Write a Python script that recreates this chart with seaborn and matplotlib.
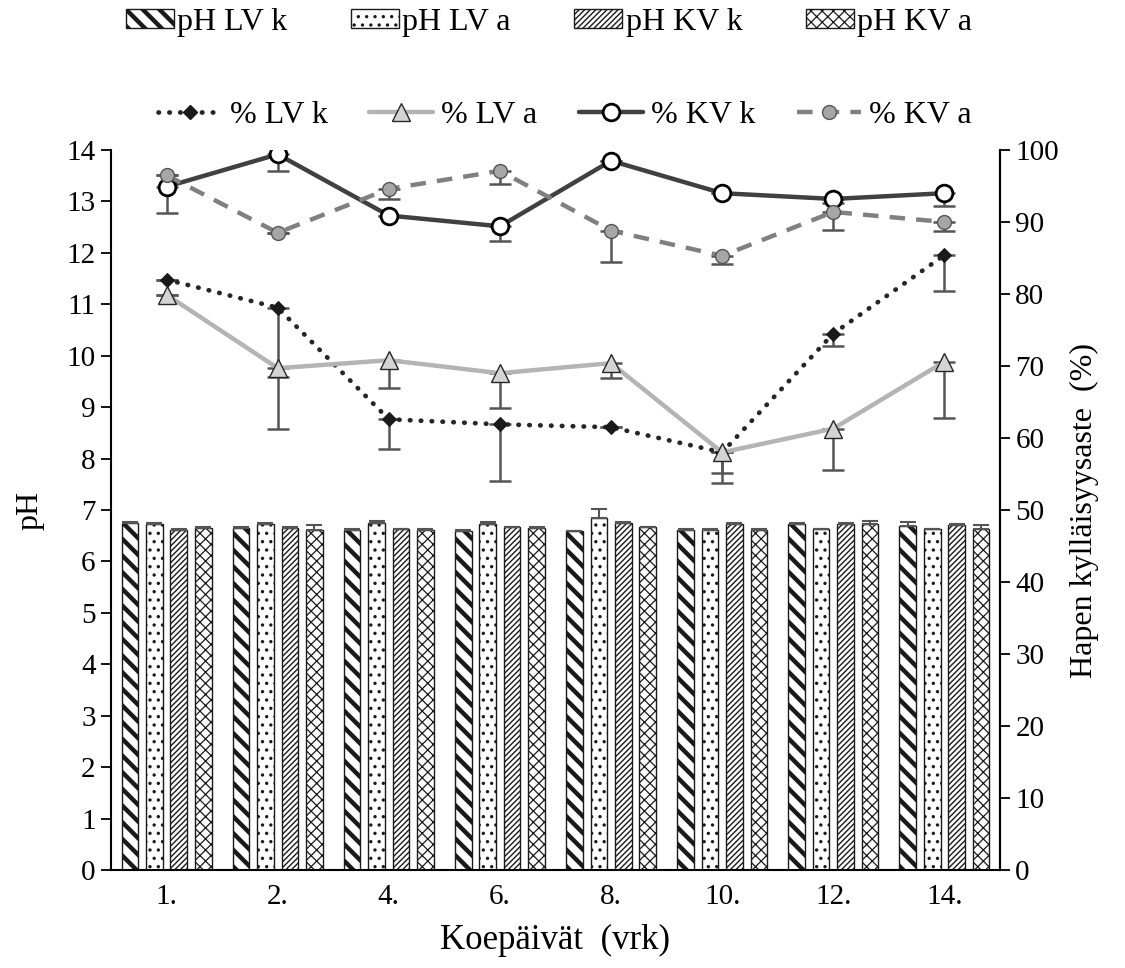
import numpy as np
import pandas as pd
import matplotlib
matplotlib.use('Agg')
import matplotlib.pyplot as plt
import seaborn as sns
from matplotlib.patches import Patch
from matplotlib.lines import Line2D
from matplotlib.ticker import FixedLocator

# ---------------- data ----------------
days = ['1.', '2.', '4.', '6.', '8.', '10.', '12.', '14.']
ph_series = ['pH LV k', 'pH LV a', 'pH KV k', 'pH KV a']
ph_lv_k = [6.74, 6.65, 6.62, 6.59, 6.59, 6.62, 6.73, 6.68]
ph_lv_a = [6.72, 6.72, 6.74, 6.73, 6.85, 6.62, 6.63, 6.63]
ph_kv_k = [6.62, 6.65, 6.63, 6.66, 6.74, 6.72, 6.72, 6.70]
ph_kv_a = [6.65, 6.62, 6.62, 6.65, 6.66, 6.62, 6.73, 6.63]
ph_lv_k_err = [0.02, 0.01, 0.02, 0.02, 0.01, 0.01, 0.02, 0.08]
ph_lv_a_err = [0.03, 0.02, 0.04, 0.03, 0.17, 0.01, 0.01, 0.01]
ph_kv_k_err = [0.01, 0.01, 0.01, 0.01, 0.02, 0.02, 0.02, 0.02]
ph_kv_a_err = [0.02, 0.08, 0.02, 0.02, 0.01, 0.01, 0.06, 0.08]

o2_series = ['% LV k', '% LV a', '% KV k', '% KV a']
o2_lv_k = [82.0, 78.1, 62.6, 61.9, 61.5, 58.0, 74.5, 85.4]
o2_lv_a = [79.9, 69.7, 70.8, 69.0, 70.4, 58.0, 61.3, 70.6]
o2_kv_k = [94.9, 99.4, 90.9, 89.4, 98.5, 94.0, 93.2, 94.0]
o2_kv_a = [96.5, 88.5, 94.6, 97.1, 88.8, 85.3, 91.4, 90.0]
o2_lv_k_err = [0.0, 9.6, 4.1, 7.9, 0.0, 4.3, 1.7, 5.0]
o2_lv_a_err = [0.0, 8.4, 3.8, 4.8, 2.0, 2.9, 5.7, 7.8]
o2_kv_k_err = [3.7, 2.3, 0.0, 2.0, 0.0, 0.0, 0.5, 1.8]
o2_kv_a_err = [0.0, 0.0, 1.4, 1.8, 4.4, 1.1, 2.5, 1.3]

# ---------------- style ----------------
sns.set_theme(style='white')
plt.rcParams['font.family'] = ['Liberation Serif', 'DejaVu Serif']
plt.rcParams['hatch.linewidth'] = 1.0
for k in ['text.color', 'axes.labelcolor', 'xtick.color', 'ytick.color']:
    plt.rcParams[k] = 'black'

fig = plt.figure(figsize=(11.25, 9.68), dpi=100)
ax = fig.add_axes([111/1125, 1-870/968, (1000-111)/1125, (870-150)/968])

ph_vals = [ph_lv_k, ph_lv_a, ph_kv_k, ph_kv_a]
ph_errs = [ph_lv_k_err, ph_lv_a_err, ph_kv_k_err, ph_kv_a_err]
df = pd.DataFrame({
    'day': np.tile(days, len(ph_series)),
    'series': np.repeat(ph_series, len(days)),
    'ph': np.concatenate(ph_vals),
})
sns.barplot(data=df, x='day', y='ph', hue='series', order=days,
            hue_order=ph_series, width=0.88, gap=0.32, ax=ax,
            palette=['white'] * 4, edgecolor='#1a1a1a', linewidth=1.0,
            errorbar=None, legend=False)

hatches = ['\\\\', '..', '//////', 'xxx']
hatch_lw = [3.2, 1.2, 1.0, 0.9]
for cont, h, hl, err in zip(ax.containers, hatches, hatch_lw, ph_errs):
    xs, ys = [], []
    for p in cont.patches:
        p.set_hatch(h)
        if hasattr(p, 'set_hatch_linewidth'):
            p.set_hatch_linewidth(hl)
        xs.append(p.get_x() + p.get_width() / 2)
        ys.append(p.get_height())
    ax.errorbar(xs, ys, yerr=[np.zeros(len(err)), err], fmt='none',
                ecolor='#555555', elinewidth=1.5, capsize=6, capthick=1.5,
                zorder=3)

ax.set_ylim(0, 14)
ax.set_xlim(-0.5, len(days) - 0.5)
ax.set_yticks(range(0, 15))
ax.set_xlabel('Koepäivät  (vrk)', fontsize=25, labelpad=10)
ax.set_ylabel('pH', fontsize=23, labelpad=16)
ax.tick_params(axis='x', which='major', length=0, labelsize=21, pad=10)
ax.xaxis.set_minor_locator(FixedLocator(np.arange(0.5, len(days) - 0.5, 1)))
ax.tick_params(axis='x', which='minor', length=7, width=1.3, direction='out', color='black')
ax.tick_params(axis='y', length=7, width=1.3, direction='out', color='black',
               labelsize=21, pad=4, left=True)
for s in ['left', 'bottom', 'right']:
    ax.spines[s].set_color('black')
    ax.spines[s].set_linewidth(1.5)
ax.spines['top'].set_visible(False)

# ---------------- secondary axis lines ----------------
ax2 = ax.twinx()
x_idx = np.arange(len(days))
line_styles = [
    dict(color='#262626', linestyle=(0, (0.1, 2.2)), linewidth=3.4,
         dash_capstyle='round', marker='D', markersize=7,
         markerfacecolor='#1a1a1a', markeredgecolor='#1a1a1a'),
    dict(color='#b4b4b4', linestyle='-', linewidth=3.2, marker='^',
         markersize=13, markerfacecolor='#d4d4d4', markeredgecolor='#262626',
         markeredgewidth=1.0),
    dict(color='#404040', linestyle='-', linewidth=3.2, marker='o',
         markersize=12, markerfacecolor='white', markeredgecolor='black',
         markeredgewidth=2.0),
    dict(color='#808080', linestyle=(0, (3.5, 2.5)), linewidth=3.2,
         marker='o', markersize=10, markerfacecolor='#a6a6a6',
         markeredgecolor='#555555', markeredgewidth=1.0),
]
o2_vals = [o2_lv_k, o2_lv_a, o2_kv_k, o2_kv_a]
o2_errs = [o2_lv_k_err, o2_lv_a_err, o2_kv_k_err, o2_kv_a_err]
for vals, err in zip(o2_vals, o2_errs):
    ax2.errorbar(x_idx, vals, yerr=[err, np.zeros(len(err))], fmt='none',
                 ecolor='#555555', elinewidth=1.8, capsize=8, capthick=1.8,
                 zorder=2)
order_draw = [1, 0, 3, 2]
for i in order_draw:
    sns.lineplot(x=x_idx, y=o2_vals[i], ax=ax2, zorder=4 + i,
                 **line_styles[i])

ax2.set_ylim(0, 100)
ax2.set_yticks(range(0, 101, 10))
ax2.set_ylabel('Hapen kylläisyysaste  (%)', fontsize=23, labelpad=8)
ax2.tick_params(axis='y', length=7, width=1.3, direction='out', color='black',
                labelsize=21, pad=4, right=True)
for s in ['top', 'left', 'bottom']:
    ax2.spines[s].set_visible(False)
ax2.spines['right'].set_color('black')
ax2.spines['right'].set_linewidth(1.5)
ax2.grid(False)
ax.grid(False)

# ---------------- legends ----------------
bar_handles = [Patch(facecolor='white', edgecolor='#1a1a1a', hatch=h,
                     linewidth=1.0) for h in hatches]
leg1 = fig.legend(bar_handles, ph_series, loc='center',
                  bbox_to_anchor=(0.488, 0.977), ncol=4, frameon=False,
                  fontsize=23, handlelength=1.5, handleheight=0.5,
                  handletextpad=0.1, columnspacing=2.0)
for hp, hl in zip(leg1.legend_handles, hatch_lw):
    if hasattr(hp, 'set_hatch_linewidth'):
        hp.set_hatch_linewidth(hl)
line_handles = [Line2D([], [], **line_styles[i]) for i in range(4)]
fig.legend(line_handles, o2_series, loc='center', bbox_to_anchor=(0.502, 0.881),
           ncol=4, frameon=False, fontsize=23, handlelength=2.0,
           handletextpad=0.25, columnspacing=1.3)

fig.savefig('out.png', dpi=100)
